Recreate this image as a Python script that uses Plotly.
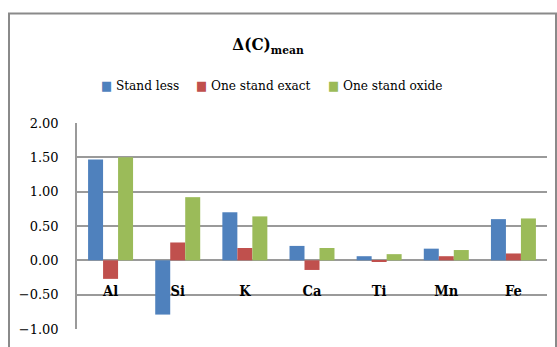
import plotly.graph_objects as go

categories = ["Al", "Si", "K", "Ca", "Ti", "Mn", "Fe"]
stand_less = [1.47, -0.79, 0.70, 0.21, 0.06, 0.17, 0.60]
one_stand_exact = [-0.27, 0.26, 0.18, -0.14, -0.02, 0.06, 0.10]
one_stand_oxide = [1.50, 0.92, 0.64, 0.18, 0.09, 0.15, 0.61]
series_names = ["Stand less", "One stand exact", "One stand oxide"]
colors = ["#4F81BD", "#C0504D", "#9BBB59"]
y_ticks = [-1.0, -0.5, 0.0, 0.5, 1.0, 1.5, 2.0]

W, H = 557, 347
L, R, T, B = 77, 10, 123, 15
pw, ph = W - L - R, H - T - B

def px_x(p):
    return (p - L) / pw

def px_y(p):
    return (H - B - p) / ph

fig = go.Figure()
for name, vals, col in zip(series_names, [stand_less, one_stand_exact, one_stand_oxide], colors):
    fig.add_trace(go.Bar(x=categories, y=vals, name=name, marker=dict(color=col, line=dict(width=0)),
                         showlegend=False))

serif = "DejaVu Serif"
cserif = "DejaVu Serif Condensed, DejaVu Serif"

# legend drawn as text entries (swatch glyph + series name)
legend_x = [99, 194, 326]
annotations = []
for name, col, lx in zip(series_names, colors, legend_x):
    annotations.append(dict(
        text=f"<span style='color:{col};font-size:13px'>■</span> {name}", xref="paper", yref="paper",
        x=px_x(lx), y=px_y(84), xanchor="left", yanchor="middle", showarrow=False,
        font=dict(size=13.5, color="black", family=cserif)))

fig.update_layout(
    width=W, height=H,
    margin=dict(l=L, r=R, t=T, b=B),
    paper_bgcolor="white", plot_bgcolor="white",
    barmode="group", bargap=0.33, bargroupgap=0,
    font=dict(family=serif, color="#222"),
    title=dict(text="<b>Δ(C)<sub>mean</sub></b>", x=268 / W, xref="container", xanchor="center",
               y=1 - 44 / H, yref="container", yanchor="middle",
               font=dict(size=17, color="black", family=cserif)),
    showlegend=False,
    annotations=annotations,
    xaxis=dict(anchor="free", position=1 / 3, showline=False, showgrid=False, ticks="",
               tickfont=dict(size=14.5, color="black", family=cserif, weight="bold"),
               ticklabelstandoff=20),
    yaxis=dict(range=[-1, 2], tickvals=y_ticks, tickformat=".2f", showgrid=True, gridcolor="#9a9a9a",
               gridwidth=1.5, zeroline=False, showline=True, linecolor="#9a9a9a", linewidth=1.5,
               ticks="", tickfont=dict(size=13, color="black", family=serif), ticklabelstandoff=14),
    shapes=[dict(type="rect", xref="paper", yref="paper", x0=px_x(9), x1=px_x(556), y0=px_y(360), y1=px_y(12),
                 line=dict(color="#8a8a8a", width=2), fillcolor="rgba(0,0,0,0)", layer="below")],
)

fig.write_html("out.html")
